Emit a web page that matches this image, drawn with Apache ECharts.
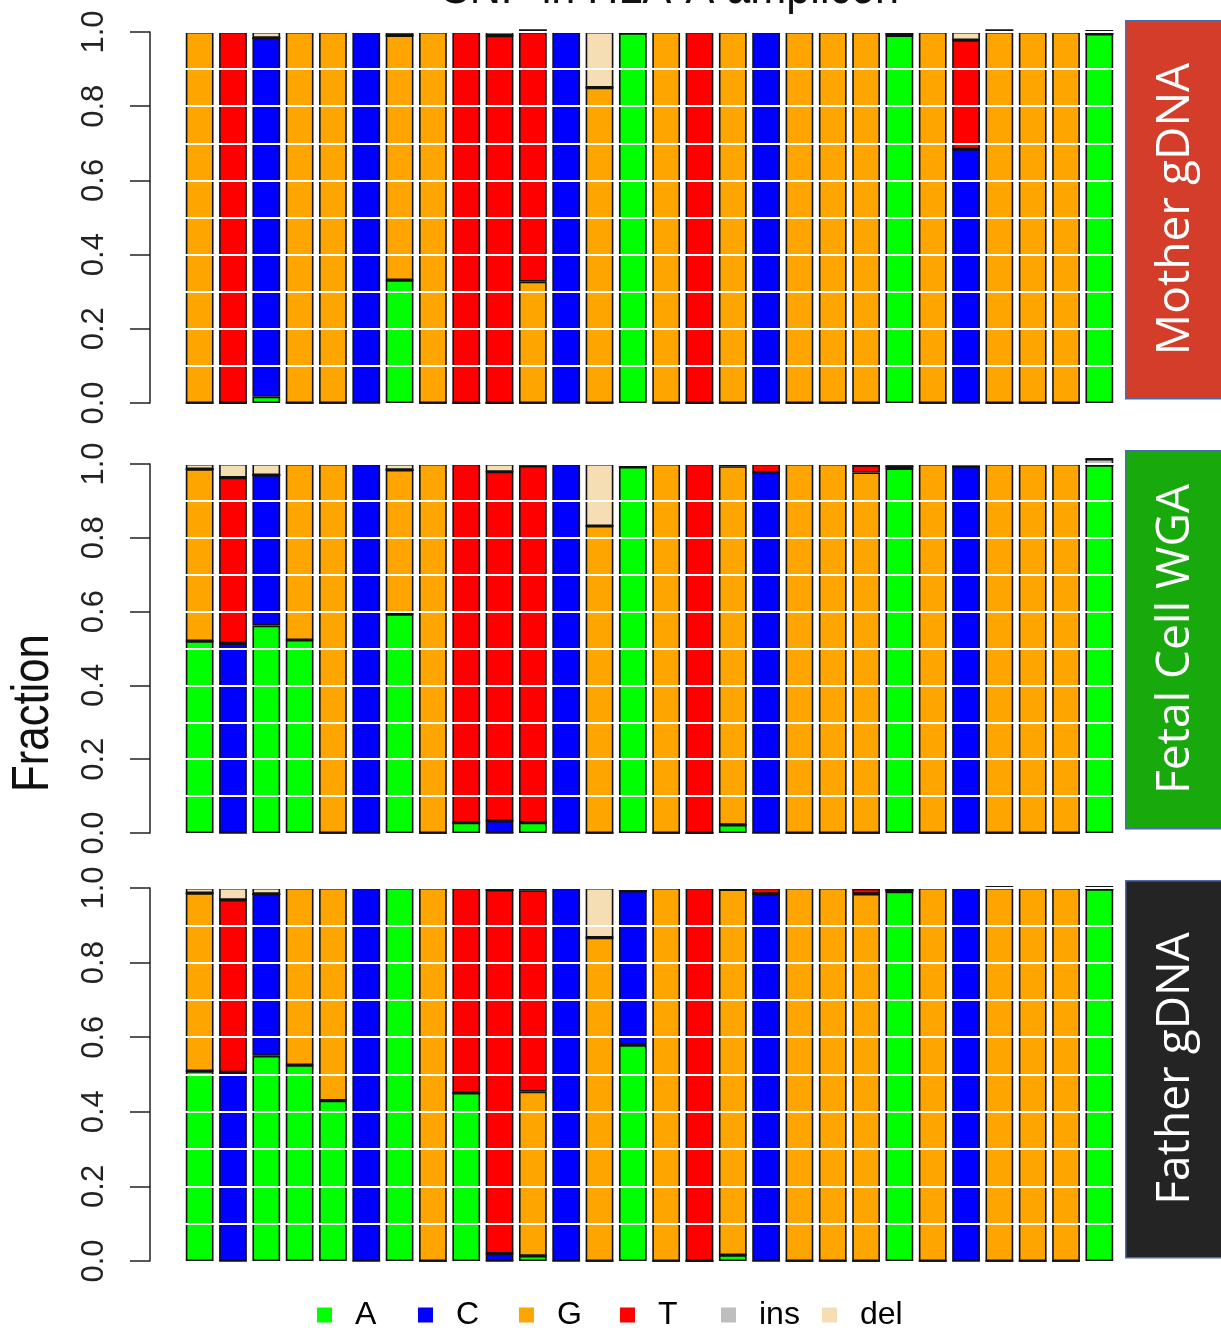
<!DOCTYPE html>
<html>
<head>
<meta charset="utf-8">
<script src="https://cdn.jsdelivr.net/npm/echarts@6/dist/echarts.min.js"></script>
<style>
html,body{margin:0;padding:0;background:#fff;}
#c{width:1221px;height:1337px;}
</style>
</head>
<body>
<div id="c"></div>
<script>
const categories = ['1','2','3','4','5','6','7','8','9','10','11','12','13','14','15','16','17','18','19','20','21','22','23','24','25','26','27','28'];
const baseNames = ['A','C','G','T','ins','del'];
const baseColors = ['#00FF00','#0000FF','#FFA500','#FF0000','#BEBEBE','#F5DEB3'];
const panelLabels = ['Mother gDNA','Fetal Cell WGA','Father gDNA'];
const panelColors = ['#D43D2A','#18AA0C','#242424'];
const gridLines = [0.1,0.2,0.3,0.4,0.5,0.6,0.7,0.8,0.9,1.0];

const motherA   = [0,0,0.017,0,0,0,0.331,0,0,0,0,0,0,0.997,0,0,0,0,0,0,0,0.991,0,0,0,0,0,0.995];
const motherC   = [0,0,0.967,0,0,1,0,0,0,0,0,1,0,0,0,0,0,1,0,0,0,0,0,0.684,0,0,0,0];
const motherG   = [1,0,0,1,1,0,0.66,1,0,0,0.327,0,0.85,0,1,0,1,0,1,1,1,0.007,1,0,1,1,1,0];
const motherT   = [0,1,0,0,0,0,0,0,1,0.99,0.673,0,0,0,0,1,0,0,0,0,0,0,0,0.294,0,0,0,0];
const motherIns = [0,0,0,0,0,0,0,0,0,0,0.005,0,0,0,0,0,0,0,0,0,0,0,0,0,0.005,0,0,0.008];
const motherDel = [0,0,0.016,0,0,0,0.009,0,0,0.01,0,0,0.15,0,0,0,0,0,0,0,0,0,0,0.022,0,0,0,0];

const fetalA   = [0.52,0,0.562,0.523,0,0,0.593,0,0.028,0,0.028,0,0,0.992,0,0,0.022,0,0,0,0,0.988,0,0,0,0,0,0.997];
const fetalC   = [0,0.514,0.408,0,0,1,0,0,0,0.033,0,1,0,0,0,0,0,0.977,0,0,0,0,0,0.993,0,0,0,0];
const fetalG   = [0.466,0,0,0.477,1,0,0.391,1,0,0,0,0,0.832,0,1,0,0.972,0,1,1,0.977,0.006,1,0,1,1,1,0];
const fetalT   = [0,0.449,0,0,0,0,0,0,0.972,0.946,0.967,0,0,0,0,1,0.006,0.023,0,0,0.02,0,0,0,0,0,0,0];
const fetalIns = [0,0,0,0,0,0,0,0,0,0,0.005,0,0,0,0,0,0,0,0,0,0,0,0,0,0,0,0,0.017];
const fetalDel = [0.014,0.037,0.03,0,0,0,0.016,0,0,0.021,0,0,0.168,0,0,0,0,0,0,0,0,0,0,0,0,0,0,0];

const fatherA   = [0.509,0,0.55,0.525,0.43,0,1,0,0.451,0,0.014,0,0,0.579,0,0,0.016,0,0,0,0,0.99,0,0,0,0,0,0.997];
const fatherC   = [0,0.506,0.434,0,0,1,0,0,0,0.02,0,1,0,0.413,0,0,0,0.984,0,0,0,0,0,1,0,0,0,0];
const fatherG   = [0.477,0,0,0.475,0.57,0,0,1,0,0,0.44,0,0.867,0,1,0,0.98,0,1,1,0.984,0.005,1,0,1,1,1,0];
const fatherT   = [0,0.462,0,0,0,0,0,0,0.549,0.975,0.54,0,0,0,0,1,0,0.016,0,0,0.014,0,0,0,0,0,0,0];
const fatherIns = [0,0,0,0,0,0,0,0,0,0,0.006,0,0,0,0,0,0,0,0,0,0,0,0,0,0.003,0,0,0.006];
const fatherDel = [0.014,0.032,0.016,0,0,0,0,0,0,0,0,0,0.133,0,0,0,0,0,0,0,0,0,0,0,0,0,0,0];

const panels = [
  [motherA, motherC, motherG, motherT, motherIns, motherDel],
  [fetalA, fetalC, fetalG, fetalT, fetalIns, fetalDel],
  [fatherA, fatherC, fatherG, fatherT, fatherIns, fatherDel]
];

const narrow = '"Liberation Sans Narrow","Arial Narrow","Liberation Sans",Arial,sans-serif';
const gridTops = [32, 464, 888];
const gridHeights = [371, 369, 373];
const boxes = [[20, 398], [450, 828], [880, 1257]];

const grids = [], xAxes = [], yAxes = [], series = [], graphics = [];
for (let p = 0; p < 3; p++) {
  grids.push({left: 183, width: 933, top: gridTops[p], height: gridHeights[p], containLabel: false});
  xAxes.push({type: 'category', gridIndex: p, data: categories, show: false, boundaryGap: true});
  yAxes.push({
    type: 'value', gridIndex: p, min: 0, max: 1, interval: 0.2, offset: 33,
    axisLine: {show: true, lineStyle: {color: '#222', width: 1.5}},
    axisTick: {show: true, length: 20, inside: false, lineStyle: {color: '#222', width: 1.5}},
    axisLabel: {rotate: 90, fontSize: 31, fontFamily: narrow, color: '#222', margin: 40,
      formatter: v => v.toFixed(1)},
    splitLine: {show: false}
  });
  for (let b = 0; b < 6; b++) {
    const s = {
      name: baseNames[b], type: 'bar', stack: 'p' + p, xAxisIndex: p, yAxisIndex: p,
      data: panels[p][b], barCategoryGap: '16.7%', clip: false, animation: false,
      itemStyle: {color: baseColors[b], borderColor: '#111', borderWidth: 1.6},
      emphasis: {disabled: true}
    };
    if (b === 5) {
      s.markLine = {
        silent: true, symbol: ['none', 'none'], animation: false,
        label: {show: false},
        lineStyle: {color: '#fff', width: 2, type: 'solid'},
        data: gridLines.map(v => ({yAxis: v}))
      };
    }
    series.push(s);
  }
  graphics.push({
    type: 'rect', left: 1125, top: boxes[p][0],
    shape: {x: 0, y: 0, width: 110, height: boxes[p][1] - boxes[p][0]},
    style: {fill: panelColors[p], stroke: '#4A6BB0', lineWidth: 1.5}
  });
  graphics.push({
    type: 'text', x: 1176, y: (boxes[p][0] + boxes[p][1]) / 2, rotation: Math.PI / 2,
    style: {text: panelLabels[p], fill: '#fff', fontSize: 46, fontFamily: '"Open Sans","Noto Sans",sans-serif',
      align: 'center', verticalAlign: 'middle', textAlign: 'center', textVerticalAlign: 'middle'}
  });
}

graphics.push({
  type: 'text', x: 670, y: -11, scaleX: 0.83,
  style: {text: 'SNP in HLA-A amplicon', fill: '#111', fontSize: 52, fontFamily: narrow,
    align: 'center', verticalAlign: 'middle', textAlign: 'center', textVerticalAlign: 'middle'}
});
graphics.push({
  type: 'text', x: 34, y: 713, rotation: Math.PI / 2, scaleX: 0.84,
  style: {text: 'Fraction', fill: '#111', fontSize: 52, fontFamily: narrow,
    align: 'center', verticalAlign: 'middle', textAlign: 'center', textVerticalAlign: 'middle'}
});

const legends = baseNames.map((n, i) => ({
  data: [n], left: 317 + 101 * i, top: 1299, padding: 0, orient: 'horizontal',
  icon: 'rect', itemWidth: 15, itemHeight: 15,
  itemStyle: {borderWidth: 0},
  selectedMode: false,
  textStyle: {fontSize: 32, fontFamily: narrow, color: '#000', padding: [0, 0, 0, 18]}
}));

const chart = echarts.init(document.getElementById('c'), null, {renderer: 'canvas'});
chart.setOption({
  backgroundColor: '#fff',
  animation: false,
  grid: grids, xAxis: xAxes, yAxis: yAxes, series: series,
  legend: legends,
  graphic: graphics
});
</script>
</body>
</html>
